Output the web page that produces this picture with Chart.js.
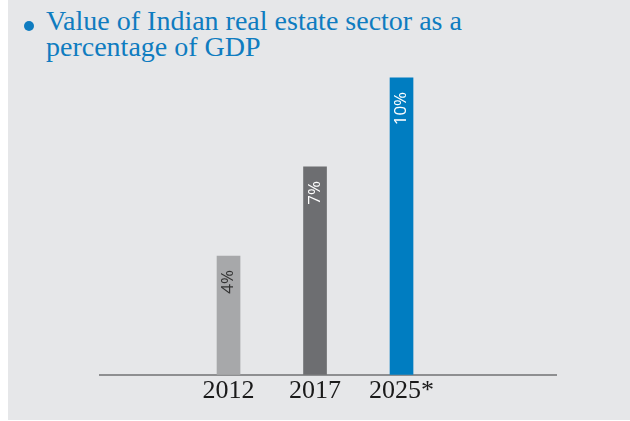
<!DOCTYPE html>
<html>
<head>
<meta charset="utf-8">
<script src="https://cdn.jsdelivr.net/npm/chart.js@4"></script>
<style>
  html, body { margin: 0; padding: 0; background: #fff; }
  #panel {
    position: absolute; left: 8px; top: 0; width: 622px; height: 420px;
    background: #e6e7e9;
  }
  #title {
    position: absolute; left: 46px; top: 8px;
    font-family: 'Liberation Serif', serif; font-size: 28px; line-height: 26px;
    color: #0f7cc0;
  }
  #bullet {
    position: absolute; left: 24px; top: 21px; width: 10px; height: 10px;
    border-radius: 50%; background: #0f7cc0;
  }
  #wrap { position: absolute; left: 0; top: 0; width: 630px; height: 421px; }
</style>
</head>
<body>
<div id="panel"></div>
<div id="bullet"></div>
<div id="title">Value of Indian real estate sector as a<br>percentage of GDP</div>
<div id="wrap"><canvas id="chart"></canvas></div>
<script>
// ===== Data =====
const years = ['2012', '2017', '2025*'];
const shareOfGdp = [4, 7, 10];
const xPos = [1, 2, 3];
const barColors = ['#a7a8aa', '#6d6e71', '#007dc1'];
const labelColors = ['#333333', '#ffffff', '#ffffff'];

// rotated value labels inside the bars
const barLabels = {
  id: 'barLabels',
  afterDatasetsDraw(chart) {
    const ctx = chart.ctx;
    const meta = chart.getDatasetMeta(0);
    ctx.save();
    ctx.font = "17px 'Open Sans', sans-serif";
    ctx.textAlign = 'right';
    ctx.textBaseline = 'middle';
    meta.data.forEach((bar, i) => {
      ctx.save();
      ctx.translate(bar.x, bar.y + 14);
      ctx.rotate(-Math.PI / 2);
      ctx.fillStyle = labelColors[i];
      ctx.fillText(shareOfGdp[i] + '%', 0, 0);
      ctx.restore();
    });
    ctx.restore();
  }
};

new Chart(document.getElementById('chart'), {
  type: 'bar',
  data: {
    datasets: [{
      data: xPos.map((x, i) => ({ x: x, y: shareOfGdp[i] })),
      backgroundColor: barColors,
      barThickness: 23,
      borderWidth: 0,
    }],
  },
  options: {
    responsive: true,
    maintainAspectRatio: false,
    animation: false,
    layout: { padding: { left: 100, right: 74, top: 63, bottom: 13 } },
    plugins: {
      legend: { display: false },
      tooltip: { enabled: false },
    },
    scales: {
      x: {
        type: 'linear',
        offset: false,
        min: -0.486,
        max: 4.786,
        grid: { display: false, drawTicks: false, offset: false },
        border: { color: '#8e8f91', width: 2 },
        afterBuildTicks: scale => { scale.ticks = xPos.map(v => ({ value: v })); },
        ticks: {
          padding: 1,
          color: '#1a1a1a',
          font: { family: "'Liberation Serif', serif", size: 26 },
          callback: v => years[xPos.indexOf(v)],
        },
      },
      y: {
        display: false,
        min: 0,
        max: 10.5,
      },
    },
  },
  plugins: [barLabels],
});
</script>
</body>
</html>
